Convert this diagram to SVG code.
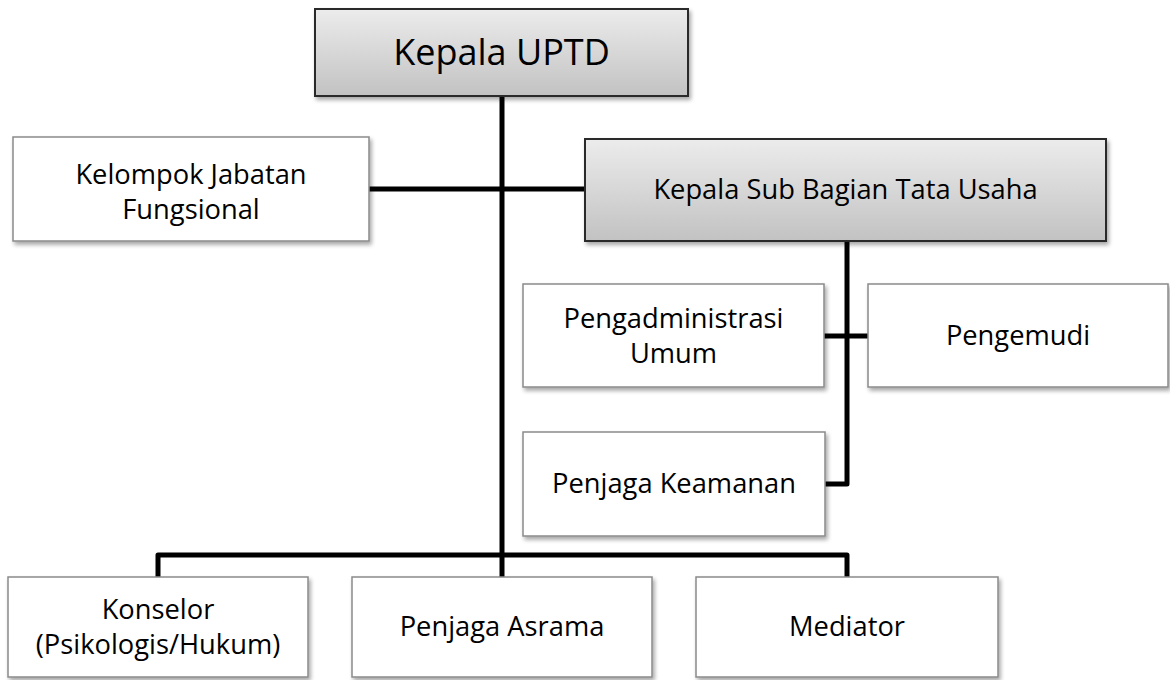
<svg xmlns="http://www.w3.org/2000/svg" width="1170" height="680" viewBox="0 0 1170 680">
<defs>
<linearGradient id="gray" x1="0" y1="0" x2="0" y2="1">
<stop offset="0" stop-color="#ececec"/>
<stop offset="1" stop-color="#c2c2c2"/>
</linearGradient>
<filter id="sh" x="-5%" y="-5%" width="112%" height="125%">
<feGaussianBlur in="SourceAlpha" stdDeviation="2"/>
<feOffset dx="2" dy="3" result="b"/>
<feComponentTransfer><feFuncA type="linear" slope="0.35"/></feComponentTransfer>
<feMerge><feMergeNode/><feMergeNode in="SourceGraphic"/></feMerge>
</filter>
</defs>
<style>
.g{fill:url(#gray);stroke:#2a2a2a;stroke-width:2;filter:url(#sh)}
.w{fill:#fff;stroke:#8a8a8a;stroke-width:1.5;filter:url(#sh)}
text{font-family:"Open Sans","Noto Sans","DejaVu Sans",sans-serif;font-size:27.3px;fill:#000;text-anchor:middle}
.big{font-size:36px}
.c{fill:none;stroke:#000;stroke-width:5;stroke-linejoin:round}
</style>
<rect width="1170" height="680" fill="#fff"/>
<g id="connectors">
<path class="c" d="M502 96 V577"/>
<path class="c" d="M369 189 H585"/>
<path class="c" d="M847 241 V484 H825"/>
<path class="c" d="M824 336 H868"/>
<path class="c" d="M158 577 V555 H847 V577"/>
</g>
<g id="kepala-uptd">
<rect class="g" x="315" y="9" width="373" height="87"/>
<text class="big" x="501.5" y="65">Kepala UPTD</text>
</g>
<g id="kelompok-jabatan">
<rect class="w" x="13" y="137" width="356" height="104"/>
<text x="191" y="184">Kelompok Jabatan</text>
<text x="191" y="219">Fungsional</text>
</g>
<g id="kepala-sub">
<rect class="g" x="585" y="139" width="521" height="102"/>
<text x="845.5" y="199">Kepala Sub Bagian Tata Usaha</text>
</g>
<g id="pengadministrasi">
<rect class="w" x="523" y="284" width="301" height="103"/>
<text x="673.5" y="328">Pengadministrasi</text>
<text x="673.5" y="363">Umum</text>
</g>
<g id="pengemudi">
<rect class="w" x="868" y="284" width="300" height="103"/>
<text x="1018" y="345">Pengemudi</text>
</g>
<g id="penjaga-keamanan">
<rect class="w" x="523" y="432" width="302" height="104"/>
<text x="674" y="493">Penjaga Keamanan</text>
</g>
<g id="konselor">
<rect class="w" x="8" y="577" width="300" height="100"/>
<text x="158" y="619">Konselor</text>
<text x="158" y="654">(Psikologis/Hukum)</text>
</g>
<g id="penjaga-asrama">
<rect class="w" x="352" y="577" width="300" height="100"/>
<text x="502" y="636">Penjaga Asrama</text>
</g>
<g id="mediator">
<rect class="w" x="696" y="577" width="302" height="100"/>
<text x="847" y="636">Mediator</text>
</g>
</svg>
